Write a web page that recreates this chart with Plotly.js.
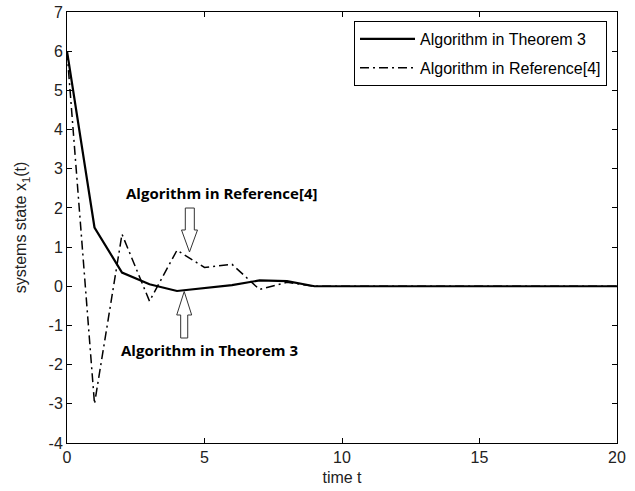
<!DOCTYPE html>
<html><head><meta charset="utf-8">
<script src="https://cdn.plot.ly/plotly-3.0.1.min.js"></script>
<style>html,body{margin:0;padding:0;background:#fff}</style>
</head><body>
<div id="chart" style="width:635px;height:491px"></div>
<script>
const timeT = [0,1,2,3,4,5,6,7,8,9,10,11,12,13,14,15,16,17,18,19,20];
const theorem3 = [6,1.5,0.35,0.05,-0.12,-0.04,0.03,0.15,0.13,0,0,0,0,0,0,0,0,0,0,0,0];
const reference4 = [6,-3,1.33,-0.38,0.92,0.48,0.56,-0.08,0.1,0,0,0,0,0,0,0,0,0,0,0,0];
const seriesNames = ['Algorithm in Theorem 3','Algorithm in Reference[4]'];
const xTicks = [0,5,10,15,20];
const yTicks = [-4,-3,-2,-1,0,1,2,3,4,5,6,7];
const yTickText = ['-4','-3','-2','-1','0','1','2','3','4','5','6','7'];

const L=67, R=617, T=12, B=443;
const px = x => (x-L)/(R-L);
const py = y => (B-y)/(B-T);
function path(pts){return 'M '+pts.map(p=>px(p[0]).toFixed(4)+','+py(p[1]).toFixed(4)).join(' L ')+' Z';}

const downArrow = path([[185.3,208],[194.3,208],[194.3,230],[197.5,230],[189.5,252],[181.5,230],[185.3,230]]);
const upArrow = path([[180.7,338],[187.7,338],[187.7,315],[191.7,315],[184.2,291.5],[176.7,315],[180.7,315]]);

const axFont = {family:'Liberation Sans, Arial, sans-serif', size:16, color:'#222'};
const data = [
  {x:timeT, y:theorem3, name:seriesNames[0], legendgroup:'a', mode:'lines', line:{color:'#000', width:2.2}},
  {x:timeT, y:reference4, name:seriesNames[1], legendgroup:'b', mode:'lines', line:{color:'#000', width:1.5, dash:'9px,4px,2px,4px'}}
];
const layout = {
  width:635, height:491,
  margin:{l:L, r:635-R, t:T, b:491-B},
  paper_bgcolor:'#fff', plot_bgcolor:'#fff',
  showlegend:true,
  legend:{x:px(607), y:py(21), xanchor:'right', yanchor:'top', bordercolor:'#000', borderwidth:1, bgcolor:'#fff',
    itemwidth:55, tracegroupgap:5,
    font:{family:'Liberation Sans, Arial, sans-serif', size:16, color:'#000'}},
  xaxis:{range:[0,20], tickvals:xTicks, ticks:'inside', ticklen:5, tickcolor:'#000', showline:true, linecolor:'#000', linewidth:1, mirror:'ticks', showgrid:false, zeroline:false, tickfont:axFont,
    title:{text:'time t', font:axFont, standoff:6}},
  yaxis:{range:[-4,7], tickvals:yTicks, ticktext:yTickText, ticks:'inside', ticklen:5, tickcolor:'#000', showline:true, linecolor:'#000', linewidth:1, mirror:'ticks', showgrid:false, zeroline:false, tickfont:axFont,
    title:{text:'systems state x<sub>1</sub>(t)', font:axFont, standoff:17}},
  shapes:[
    {type:'path', xref:'paper', yref:'paper', path:downArrow, fillcolor:'#fff', line:{color:'#333', width:1}},
    {type:'path', xref:'paper', yref:'paper', path:upArrow, fillcolor:'#fff', line:{color:'#333', width:1}}
  ],
  annotations:[
    {xref:'paper', yref:'paper', x:px(221.5), y:py(193), text:'<b>Algorithm in Reference[4]</b>', showarrow:false, xanchor:'center', yanchor:'middle', font:{family:'Open Sans, sans-serif', size:15, color:'#000'}},
    {xref:'paper', yref:'paper', x:px(209.7), y:py(350), text:'<b>Algorithm in Theorem 3</b>', showarrow:false, xanchor:'center', yanchor:'middle', font:{family:'Open Sans, sans-serif', size:15, color:'#000'}}
  ]
};
Plotly.newPlot('chart', data, layout, {displayModeBar:false, staticPlot:true});
</script>
</body></html>
